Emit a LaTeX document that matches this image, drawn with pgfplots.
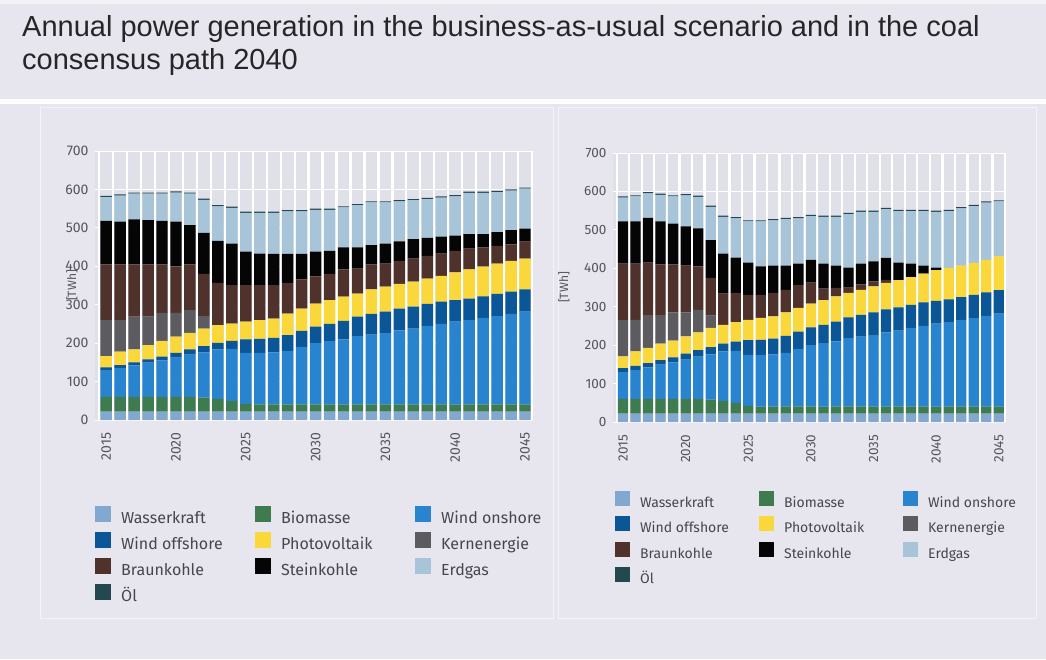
\documentclass[border=0pt]{standalone}
\usepackage{pgfplots}
\pgfplotsset{compat=1.18}
\usepackage{pgfplotstable}
\usepackage{fontspec}
\setmainfont{Fira Sans}
\newfontfamily\titlefont{Liberation Sans}
\definecolor{bg}{RGB}{231,230,239}
\definecolor{plotbg}{RGB}{224,224,233}
\definecolor{titlecol}{RGB}{38,38,40}
\definecolor{tickcol}{RGB}{85,85,90}
\definecolor{legcol}{RGB}{70,70,75}
\definecolor{cW}{RGB}{130,168,208}
\definecolor{cB}{RGB}{62,124,80}
\definecolor{cOn}{RGB}{40,132,206}
\definecolor{cOff}{RGB}{10,86,150}
\definecolor{cPV}{RGB}{250,216,60}
\definecolor{cNuc}{RGB}{92,92,96}
\definecolor{cLig}{RGB}{80,50,44}
\definecolor{cHC}{RGB}{5,5,5}
\definecolor{cGas}{RGB}{168,196,216}
\definecolor{cOil}{RGB}{36,72,80}

\pgfplotstableread{
year wasser bio on off pv nuc lig hc gas oil
2015 22 38 70 7 29 94 145 113 62 3
2016 22 38 75 8 35 82 145 111 68 3
2017 22 38 82 8 34 85 136 117 67 3
2018 22 38 89 9 37 74 136 115 69 3
2019 22 38 95 10 41 73 126 113 71 3
2020 22 38 102 13 42 62 121 116 76 3
2021 22 38 110 14 43 59 119 102 82 3
2022 22 36 118 16 46 32 110 107 86 3
2023 22 33 129 17 46 0 110 109 90 3
2024 22 28 135 21 45 0 100 108 93 3
2025 22 20 133 35 46 0 95 87 101 3
2026 22 18 135 36 49 0 91 82 106 3
2027 22 18 136 38 50 0 87 81 107 3
2028 22 18 140 41 56 0 80 75 111 3
2029 22 18 150 42 58 0 76 66 111 3
2030 22 18 160 43 60 0 71 64 109 3
2031 22 18 165 45 62 0 68 60 107 3
2032 22 18 170 48 63 0 71 57 104 3
2033 22 18 178 51 60 0 65 55 110 3
2034 22 18 182 54 64 0 65 50 111 3
2035 22 18 186 56 65 0 60 52 107 3
2036 22 18 193 57 64 0 60 51 104 3
2037 22 18 198 57 65 0 60 51 101 3
2038 22 18 205 57 66 0 59 47 101 3
2039 22 18 210 58 67 0 58 44 102 3
2040 22 18 216 56 72 0 56 40 102 3
2041 22 18 220 56 76 0 54 38 107 3
2042 22 18 226 56 77 0 50 35 107 3
2043 22 18 230 58 79 0 46 36 104 3
2044 22 18 236 58 80 0 43 37 103 3
2045 22 18 242 58 80 0 44 34 104 3
}\bau

\pgfplotstableread{
year wasser bio on off pv nuc lig hc gas oil
2015 22 38 70 10 31 94 147 110 62 3
2016 22 38 75 11 38 82 146 110 65 3
2017 22 38 82 11 40 85 137 116 64 3
2018 22 38 89 12 43 74 132 112 69 3
2019 22 38 95 13 44 73 125 106 71 3
2020 22 38 102 16 45 62 122 102 81 3
2021 22 38 110 17 46 59 113 99 82 3
2022 22 36 118 19 50 32 98 98 87 3
2023 22 33 129 20 49 0 81 104 96 3
2024 22 28 135 24 51 0 76 92 102 3
2025 22 20 133 38 53 0 65 84 107 3
2026 22 18 135 39 57 0 60 74 117 3
2027 22 18 136 41 58 0 61 71 118 3
2028 22 18 140 44 61 0 59 63 121 3
2029 22 18 150 45 62 0 60 55 118 3
2030 22 18 160 46 62 0 55 59 114 3
2031 22 18 165 48 64 0 30 65 122 3
2032 22 18 170 51 66 0 22 58 127 3
2033 22 18 178 54 64 0 14 52 139 3
2034 22 18 182 57 65 0 14 54 135 3
2035 22 18 186 59 68 0 13 52 129 3
2036 22 18 193 60 69 0 8 57 127 3
2037 22 18 198 60 71 0 0 46 134 3
2038 22 18 205 60 72 0 0 35 137 3
2039 22 18 210 61 75 0 0 21 142 3
2040 22 18 216 59 80 0 0 7 145 3
2041 22 18 220 59 82 0 0 0 148 3
2042 22 18 226 59 82 0 0 0 149 3
2043 22 18 230 61 83 0 0 0 148 3
2044 22 18 236 61 85 0 0 0 149 3
2045 22 18 242 61 88 0 0 0 143 3
}\kk

\pgfplotsset{
  powstyle/.style={
    ybar stacked, bar width=0.82, scale only axis, height=269pt,
    ymin=0, ymax=700, ytick={0,100,...,700},
    xmin=2014.2, xmax=2045.5,
    xtick={2015,2020,...,2045},
    /pgf/number format/1000 sep={},
    /pgf/number format/assume math mode=true,
    axis line style={draw=none}, tick style={draw=none},
    axis background/.style={fill=plotbg},
    ymajorgrids, major grid style={white, line width=1pt},
    extra x ticks={2014.5,2015.5,...,2045.5},
    extra x tick labels={},
    extra x tick style={grid=major, major grid style={white, line width=2.3pt}},
    xticklabel style={rotate=90, anchor=east, text=tickcol},
    yticklabel style={text=tickcol},
    xticklabel shift=9pt,
    yticklabel shift=3pt,
    legend columns=3,
    legend cell align=left,
  },
  lgL/.style={legend image code/.code={\fill[##1] (0pt,-3pt) rectangle (16pt,13pt);}},
  lgR/.style={legend image code/.code={\fill[##1] (0pt,-3pt) rectangle (15pt,12pt);}},
}

\begin{document}
\begin{tikzpicture}
\useasboundingbox (0pt,0pt) rectangle (1046pt,659pt);
\fill[bg] (0pt,0pt) rectangle (1046pt,659pt);
\fill[white!45!bg] (0pt,655pt) rectangle (1046pt,659pt);
\fill[white] (0pt,555pt) rectangle (1046pt,560pt);
\draw[white!55!bg, line width=1pt] (40pt,41pt) rectangle (553pt,551pt);
\draw[white!55!bg, line width=1pt] (558pt,41pt) rectangle (1036pt,551pt);
\node[anchor=base west, inner sep=0pt, text=titlecol, font=\titlefont\fontsize{29}{34}\selectfont] at (22pt,622pt) {Annual power generation in the business-as-usual scenario and in the coal};
\node[anchor=base west, inner sep=0pt, text=titlecol, font=\titlefont\fontsize{29}{34}\selectfont] at (22pt,589pt) {consensus path 2040};

% left chart
\begin{axis}[powstyle, at={(95pt,239pt)}, anchor=south west, width=437pt,
  tick label style={font=\fontsize{14}{16}\selectfont},
  ylabel={\relax[TWh]},
  every axis y label/.style={at={(axis description cs:-0.053,0.5)}, rotate=90, anchor=center, font=\fontsize{12}{14}\selectfont, text=tickcol},
  legend style={at={(axis description cs:0,-0.320)}, anchor=north west, draw=none, fill=none, inner sep=0pt,
    font=\fontsize{16}{18}\selectfont, text=legcol, row sep=4.5pt, column sep=0pt,
    nodes={inner sep=0pt, text height=13pt, text depth=4pt},
    /tikz/every odd column/.style={column sep=10pt}},
]
\addplot[fill=cW, draw=none, lgL] table[x=year, y=wasser]{\bau};
\addplot[fill=cB, draw=none, lgL] table[x=year, y=bio]{\bau};
\addplot[fill=cOn, draw=none, lgL] table[x=year, y=on]{\bau};
\addplot[fill=cOff, draw=none, lgL] table[x=year, y=off]{\bau};
\addplot[fill=cPV, draw=none, lgL] table[x=year, y=pv]{\bau};
\addplot[fill=cNuc, draw=none, lgL] table[x=year, y=nuc]{\bau};
\addplot[fill=cLig, draw=none, lgL] table[x=year, y=lig]{\bau};
\addplot[fill=cHC, draw=none, lgL] table[x=year, y=hc]{\bau};
\addplot[fill=cGas, draw=none, lgL] table[x=year, y=gas]{\bau};
\addplot[fill=cOil, draw=none, lgL] table[x=year, y=oil]{\bau};
\legend{\makebox[134pt][l]{Wasserkraft},\makebox[134pt][l]{Biomasse},\makebox[134pt][l]{Wind onshore},
\makebox[134pt][l]{Wind offshore},\makebox[134pt][l]{Photovoltaik},\makebox[134pt][l]{Kernenergie},
\makebox[134pt][l]{Braunkohle},\makebox[134pt][l]{Steinkohle},\makebox[134pt][l]{Erdgas},
\makebox[134pt][l]{Öl}}
\end{axis}

% right chart
\begin{axis}[powstyle, at={(613pt,237pt)}, anchor=south west, width=392pt,
  tick label style={font=\fontsize{13.5}{16}\selectfont},
  ylabel={\relax[TWh]},
  every axis y label/.style={at={(axis description cs:-0.125,0.5)}, rotate=90, anchor=center, font=\fontsize{12}{14}\selectfont, text=tickcol},
  legend style={at={(axis description cs:0.005,-0.257)}, anchor=north west, draw=none, fill=none, inner sep=0pt,
    font=\fontsize{14}{16}\selectfont, text=legcol, row sep=4.6pt, column sep=0pt,
    nodes={inner sep=0pt, text height=13pt, text depth=4pt},
    /tikz/every odd column/.style={column sep=10pt}},
]
\addplot[fill=cW, draw=none, lgR] table[x=year, y=wasser]{\kk};
\addplot[fill=cB, draw=none, lgR] table[x=year, y=bio]{\kk};
\addplot[fill=cOn, draw=none, lgR] table[x=year, y=on]{\kk};
\addplot[fill=cOff, draw=none, lgR] table[x=year, y=off]{\kk};
\addplot[fill=cPV, draw=none, lgR] table[x=year, y=pv]{\kk};
\addplot[fill=cNuc, draw=none, lgR] table[x=year, y=nuc]{\kk};
\addplot[fill=cLig, draw=none, lgR] table[x=year, y=lig]{\kk};
\addplot[fill=cHC, draw=none, lgR] table[x=year, y=hc]{\kk};
\addplot[fill=cGas, draw=none, lgR] table[x=year, y=gas]{\kk};
\addplot[fill=cOil, draw=none, lgR] table[x=year, y=oil]{\kk};
\legend{\makebox[119pt][l]{Wasserkraft},\makebox[119pt][l]{Biomasse},\makebox[119pt][l]{Wind onshore},
\makebox[119pt][l]{Wind offshore},\makebox[119pt][l]{Photovoltaik},\makebox[119pt][l]{Kernenergie},
\makebox[119pt][l]{Braunkohle},\makebox[119pt][l]{Steinkohle},\makebox[119pt][l]{Erdgas},
\makebox[119pt][l]{Öl}}
\end{axis}
\end{tikzpicture}
\end{document}
